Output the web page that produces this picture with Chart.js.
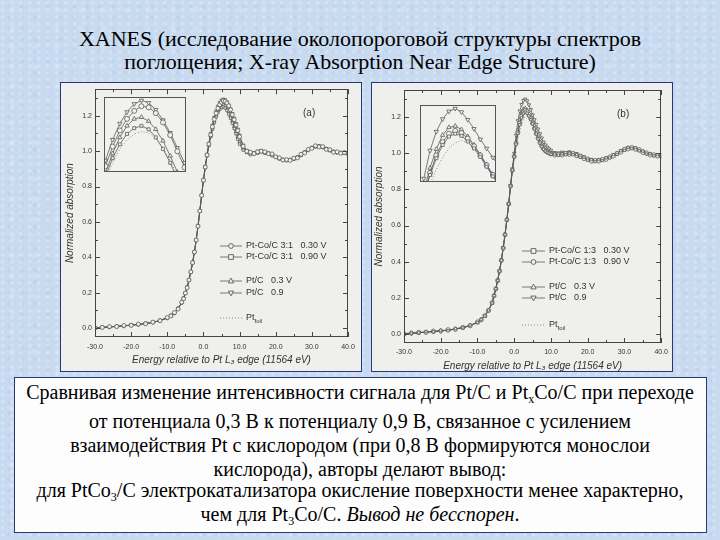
<!DOCTYPE html>
<html>
<head>
<meta charset="utf-8">
<script src="https://cdn.jsdelivr.net/npm/chart.js@4.4.1/dist/chart.umd.min.js"></script>
<style>
  body { margin: 0; width: 720px; height: 540px; overflow: hidden; position: relative;
         font-family: "Liberation Serif", serif;
         background-color: #c8daf0;
         background-image:
           radial-gradient(circle at 30% 40%, rgba(255,255,255,.35) 0, rgba(255,255,255,0) 2.5px),
           radial-gradient(circle at 70% 60%, rgba(150,175,215,.25) 0, rgba(150,175,215,0) 3px),
           radial-gradient(circle at 50% 50%, rgba(255,255,255,.2) 0, rgba(255,255,255,0) 5px);
         background-size: 9px 7px, 13px 11px, 23px 19px; }
  .ln { position: absolute; left: 360px; white-space: nowrap; color: #000;
        transform: translate(-50%, -50%); }
  .ttl { font-size: 22px; }
  .txt { font-size: 20px; }
  sub { font-size: 60%; vertical-align: -0.3em; }
  .panel { position: absolute; top: 82px; width: 302px; height: 290px; background: #eff0ed; }
  .panel canvas { position: absolute; left: 0; top: 0; }
  .panel .edge { position: absolute; left: 0; top: 0; width: 302px; height: 290px;
                 box-sizing: border-box; border: 1.5px solid #2b3775; pointer-events: none; }
  .inset { position: absolute; background: #f1f2ef; }
  .box { position: absolute; left: 14px; top: 377px; width: 693px; height: 156px;
         box-sizing: border-box; border: 1.5px solid #2b3775; background: #fdfdfd; }
</style>
</head>
<body>
<div class="ln ttl" style="top:39px">XANES (исследование околопороговой структуры спектров</div>
<div class="ln ttl" style="top:62px">поглощения; X-ray Absorption Near Edge Structure)</div>

<div class="panel" style="left:60px"><canvas id="chartA" width="302" height="290"></canvas><div class="edge"></div></div>
<div class="panel" style="left:371px"><canvas id="chartB" width="302" height="290"></canvas><div class="edge"></div></div>
<canvas class="inset" id="insetA" width="82" height="75" style="left:104px;top:97px"></canvas>
<canvas class="inset" id="insetB" width="76" height="77" style="left:420px;top:105px"></canvas>

<div class="box"></div>
<div class="ln txt" style="top:394px">Сравнивая изменение интенсивности сигнала для Pt/C и Pt<sub>x</sub>Co/C при переходе</div>
<div class="ln txt" style="top:421px">от потенциала 0,3 В к потенциалу 0,9 В, связанное с усилением</div>
<div class="ln txt" style="top:445px">взаимодействия Pt с кислородом (при 0,8 В формируются монослои</div>
<div class="ln txt" style="top:469px">кислорода), авторы делают вывод:</div>
<div class="ln txt" style="top:492px">для PtCo<sub>3</sub>/C электрокатализатора окисление поверхности менее характерно,</div>
<div class="ln txt" style="top:516px">чем для Pt<sub>3</sub>Co/C. <i>Вывод не бесспорен</i>.</div>

<script>
// energy relative to Pt L3 edge, eV
const energy = [-30, -28, -26, -24, -22, -20, -18, -16, -14, -12,
  -10, -9, -8, -7, -6,
  -5.5, -5, -4.5, -4, -3.5, -3, -2.5, -2, -1.5, -1, -0.5, 0, 0.5, 1, 1.5, 2, 2.5, 3, 3.5, 4, 4.5, 5, 5.5, 6, 6.5, 7, 7.5, 8, 8.5, 9, 9.5,
  10, 11, 12, 13, 14, 15, 16, 17, 18, 19, 20, 21, 22, 23, 24, 25, 26, 27, 28, 29, 30, 31, 32, 33, 34, 35, 36, 37, 38, 39, 40];

// (a) Pt-Co/C 3:1 and Pt/C
const aPtCo30 = [0.001, 0.004, 0.009, 0.009, 0.015, 0.016, 0.023, 0.025, 0.034, 0.042,
  0.060, 0.069, 0.088, 0.108, 0.147,
  0.166, 0.198, 0.228, 0.272, 0.318, 0.370, 0.430, 0.498, 0.576, 0.662, 0.750, 0.836, 0.910, 0.978, 1.040, 1.092, 1.138, 1.180, 1.214, 1.242, 1.262, 1.276, 1.284, 1.282, 1.272, 1.256, 1.234, 1.206, 1.178, 1.148, 1.116,
  1.082, 1.028, 1.000, 0.994, 0.986, 0.996, 1.000, 0.996, 0.986, 0.984, 0.968, 0.962, 0.950, 0.952, 0.948, 0.960, 0.962, 0.982, 0.990, 1.010, 1.016, 1.030, 1.024, 1.026, 1.010, 1.008, 0.994, 0.996, 0.988, 0.992, 0.984];
const aPtCo90 = [0.003, 0.003, 0.008, 0.008, 0.014, 0.015, 0.020, 0.027, 0.034, 0.041,
  0.059, 0.068, 0.087, 0.109, 0.146,
  0.167, 0.197, 0.229, 0.271, 0.317, 0.369, 0.429, 0.497, 0.575, 0.661, 0.749, 0.833, 0.907, 0.974, 1.032, 1.082, 1.124, 1.162, 1.194, 1.218, 1.236, 1.246, 1.250, 1.244, 1.230, 1.210, 1.186, 1.158, 1.128, 1.098, 1.068,
  1.040, 1.006, 0.992, 0.980, 0.986, 0.988, 0.998, 0.988, 0.986, 0.974, 0.968, 0.956, 0.952, 0.946, 0.952, 0.954, 0.966, 0.976, 0.994, 1.004, 1.020, 1.024, 1.028, 1.020, 1.014, 1.002, 0.998, 0.990, 0.992, 0.988, 0.986];
const aPtC03 = [0.000, 0.005, 0.006, 0.011, 0.012, 0.018, 0.022, 0.025, 0.032, 0.044,
  0.057, 0.071, 0.087, 0.111, 0.144,
  0.169, 0.197, 0.231, 0.271, 0.317, 0.369, 0.429, 0.497, 0.575, 0.661, 0.749, 0.834, 0.909, 0.976, 1.036, 1.086, 1.130, 1.168, 1.202, 1.230, 1.250, 1.262, 1.265, 1.258, 1.244, 1.224, 1.198, 1.170, 1.140, 1.110, 1.080,
  1.052, 1.014, 0.994, 0.984, 0.988, 0.992, 0.996, 0.992, 0.986, 0.978, 0.967, 0.958, 0.952, 0.949, 0.951, 0.956, 0.965, 0.978, 0.993, 1.007, 1.019, 1.026, 1.027, 1.022, 1.013, 1.004, 0.997, 0.993, 0.991, 0.990, 0.987];
const aPtC09 = [0.002, 0.006, 0.005, 0.012, 0.011, 0.019, 0.020, 0.028, 0.031, 0.045,
  0.056, 0.072, 0.084, 0.113, 0.142,
  0.170, 0.199, 0.233, 0.274, 0.320, 0.372, 0.432, 0.500, 0.578, 0.664, 0.752, 0.838, 0.914, 0.982, 1.044, 1.098, 1.146, 1.190, 1.226, 1.254, 1.274, 1.288, 1.294, 1.290, 1.278, 1.260, 1.238, 1.212, 1.186, 1.156, 1.124,
  1.090, 1.034, 1.004, 0.990, 0.992, 1.000, 1.004, 0.998, 0.990, 0.981, 0.970, 0.960, 0.953, 0.950, 0.952, 0.957, 0.966, 0.979, 0.994, 1.008, 1.020, 1.028, 1.030, 1.024, 1.015, 1.006, 0.998, 0.994, 0.991, 0.990, 0.988];
const aFoil = [0.000, 0.004, 0.007, 0.010, 0.013, 0.017, 0.021, 0.026, 0.033, 0.043,
  0.058, 0.070, 0.086, 0.110, 0.145,
  0.168, 0.196, 0.230, 0.270, 0.316, 0.368, 0.428, 0.496, 0.574, 0.660, 0.748, 0.832, 0.906, 0.972, 1.030, 1.078, 1.120, 1.156, 1.186, 1.210, 1.226, 1.236, 1.240, 1.238, 1.228, 1.212, 1.190, 1.164, 1.136, 1.106, 1.076,
  1.048, 1.010, 0.990, 0.982, 0.984, 0.990, 0.994, 0.990, 0.984, 0.976, 0.966, 0.957, 0.951, 0.948, 0.950, 0.955, 0.964, 0.977, 0.992, 1.006, 1.018, 1.025, 1.026, 1.021, 1.012, 1.003, 0.996, 0.992, 0.990, 0.989, 0.986];

// (b) Pt-Co/C 1:3 and Pt/C
const bPtCo30 = [0.002, 0.003, 0.006, 0.013, 0.012, 0.020, 0.018, 0.030, 0.034, 0.049,
  0.063, 0.080, 0.099, 0.133, 0.171,
  0.212, 0.250, 0.296, 0.348, 0.408, 0.476, 0.550, 0.632, 0.720, 0.819, 0.907, 0.980, 1.050, 1.110, 1.158, 1.196, 1.220, 1.228, 1.222, 1.206, 1.186, 1.162, 1.134, 1.106, 1.080, 1.056, 1.037, 1.022, 1.012, 1.005, 1.000,
  0.994, 0.996, 0.988, 0.996, 0.992, 1.000, 0.992, 0.992, 0.978, 0.978, 0.962, 0.964, 0.954, 0.964, 0.960, 0.974, 0.974, 0.992, 0.994, 1.014, 1.016, 1.032, 1.026, 1.030, 1.014, 1.012, 0.996, 0.998, 0.986, 0.992, 0.982];
const bPtCo90 = [-0.002, 0.005, 0.009, 0.009, 0.016, 0.016, 0.024, 0.026, 0.036, 0.045,
  0.067, 0.078, 0.101, 0.129, 0.173,
  0.211, 0.249, 0.295, 0.347, 0.407, 0.475, 0.549, 0.631, 0.719, 0.818, 0.906, 0.982, 1.054, 1.116, 1.166, 1.204, 1.228, 1.236, 1.230, 1.214, 1.192, 1.166, 1.138, 1.110, 1.084, 1.060, 1.040, 1.024, 1.013, 1.006, 1.001,
  0.996, 0.990, 0.994, 0.990, 0.998, 0.994, 0.998, 0.986, 0.984, 0.970, 0.968, 0.956, 0.960, 0.956, 0.966, 0.966, 0.980, 0.984, 1.000, 1.006, 1.022, 1.024, 1.032, 1.022, 1.020, 1.004, 1.002, 0.990, 0.992, 0.984, 0.988];
const bPtC03 = [0.001, 0.006, 0.005, 0.012, 0.011, 0.019, 0.019, 0.029, 0.033, 0.048,
  0.062, 0.081, 0.098, 0.132, 0.170,
  0.213, 0.251, 0.297, 0.349, 0.409, 0.477, 0.551, 0.633, 0.721, 0.820, 0.910, 0.988, 1.064, 1.130, 1.184, 1.224, 1.246, 1.250, 1.240, 1.220, 1.196, 1.168, 1.140, 1.112, 1.086, 1.062, 1.042, 1.026, 1.016, 1.008, 1.003,
  1.000, 0.998, 0.990, 0.998, 0.994, 1.002, 0.994, 0.994, 0.980, 0.976, 0.964, 0.962, 0.956, 0.962, 0.962, 0.972, 0.976, 0.990, 0.996, 1.012, 1.018, 1.030, 1.028, 1.028, 1.016, 1.010, 0.998, 0.996, 0.988, 0.990, 0.984];
const bPtC09 = [0.003, 0.002, 0.008, 0.008, 0.015, 0.014, 0.023, 0.025, 0.037, 0.044,
  0.066, 0.077, 0.102, 0.128, 0.174,
  0.214, 0.252, 0.298, 0.350, 0.410, 0.478, 0.552, 0.634, 0.722, 0.822, 0.914, 1.000, 1.100, 1.180, 1.234, 1.270, 1.292, 1.300, 1.290, 1.268, 1.242, 1.212, 1.186, 1.160, 1.134, 1.108, 1.084, 1.062, 1.046, 1.034, 1.024,
  1.016, 1.004, 1.002, 1.006, 1.004, 1.008, 1.002, 0.998, 0.988, 0.980, 0.970, 0.966, 0.960, 0.964, 0.966, 0.974, 0.980, 0.992, 1.000, 1.014, 1.022, 1.032, 1.030, 1.028, 1.016, 1.010, 0.998, 0.996, 0.988, 0.990, 0.984];
const bFoil = [0.000, 0.004, 0.007, 0.010, 0.013, 0.017, 0.021, 0.027, 0.035, 0.046,
  0.064, 0.079, 0.100, 0.130, 0.172,
  0.212, 0.250, 0.296, 0.348, 0.408, 0.476, 0.550, 0.632, 0.720, 0.818, 0.904, 0.974, 1.034, 1.084, 1.126, 1.160, 1.186, 1.202, 1.208, 1.202, 1.186, 1.162, 1.134, 1.104, 1.076, 1.052, 1.034, 1.020, 1.010, 1.004, 1.000,
  0.998, 0.994, 0.992, 0.994, 0.996, 0.998, 0.996, 0.990, 0.982, 0.974, 0.966, 0.960, 0.958, 0.960, 0.964, 0.970, 0.978, 0.988, 0.998, 1.010, 1.020, 1.028, 1.030, 1.026, 1.018, 1.008, 1.000, 0.994, 0.990, 0.988, 0.986];

const xTicks = [-30, -20, -10, 0, 10, 20, 30, 40];
const yTicks = [0.0, 0.2, 0.4, 0.6, 0.8, 1.0, 1.2];

const labelsA = ['Pt-Co/C 3:1   0.30 V', 'Pt-Co/C 3:1   0.90 V', 'Pt/C   0.3 V', 'Pt/C   0.9', 'Pt'];
const labelsB = ['Pt-Co/C 1:3   0.30 V', 'Pt-Co/C 1:3   0.90 V', 'Pt/C   0.3 V', 'Pt/C   0.9', 'Pt'];

const ink = '#5a5a5a';
const paper = '#f1f2ef';

function pts(ys) { return energy.map((x, i) => ({ x: x, y: ys[i] })); }

function series(label, ys, style, rot, r) {
  return {
    label: label, data: pts(ys), showLine: true,
    borderColor: ink, borderWidth: 0.8,
    pointStyle: style, pointRotation: rot, pointRadius: r,
    pointBorderColor: ink, pointBackgroundColor: paper, pointBorderWidth: 0.8
  };
}
function foil(label, ys) {
  return {
    label: label, data: pts(ys), showLine: true,
    borderColor: '#888', borderWidth: 1, borderDash: [1, 2], pointRadius: 0
  };
}

// marker drawn in the in-plot legend
function marker(ctx, style, rot, x, y, r) {
  ctx.beginPath();
  if (style === 'circle') ctx.arc(x, y, r, 0, Math.PI * 2);
  else if (style === 'rect') ctx.rect(x - r, y - r, 2 * r, 2 * r);
  else if (style === 'triangle') {
    const s = rot ? -1 : 1;
    ctx.moveTo(x, y - s * r * 1.2); ctx.lineTo(x - r * 1.1, y + s * r * 0.8); ctx.lineTo(x + r * 1.1, y + s * r * 0.8);
    ctx.closePath();
  }
  ctx.fill(); ctx.stroke();
}

const frameTicks = {
  id: 'frameTicks',
  afterDatasetsDraw(chart, args, o) {
    const ctx = chart.ctx, a = chart.chartArea;
    ctx.save();
    ctx.strokeStyle = o.color || '#444';
    ctx.lineWidth = 1;
    ctx.strokeRect(Math.round(a.left) + 0.5, Math.round(a.top) + 0.5, Math.round(a.width) - 1, Math.round(a.height) - 1);
    if (o.ticks) {
      const sx = chart.scales.x, sy = chart.scales.y;
      ctx.beginPath();
      xTicks.forEach((v, i) => {
        const p = Math.round(sx.getPixelForValue(v)) + 0.5;
        ctx.moveTo(p, a.bottom); ctx.lineTo(p, a.bottom - 5);
        ctx.moveTo(p, a.top); ctx.lineTo(p, a.top + 5);
        if (i < xTicks.length - 1) {
          const q = Math.round(sx.getPixelForValue(v + 5)) + 0.5;
          ctx.moveTo(q, a.bottom); ctx.lineTo(q, a.bottom - 3);
          ctx.moveTo(q, a.top); ctx.lineTo(q, a.top + 3);
        }
      });
      yTicks.forEach(v => {
        const p = Math.round(sy.getPixelForValue(v)) + 0.5;
        ctx.moveTo(a.left, p); ctx.lineTo(a.left + 5, p);
        ctx.moveTo(a.right, p); ctx.lineTo(a.right - 5, p);
        const q = Math.round(sy.getPixelForValue(v + 0.1)) + 0.5;
        if (q > a.top) {
          ctx.moveTo(a.left, q); ctx.lineTo(a.left + 3, q);
          ctx.moveTo(a.right, q); ctx.lineTo(a.right - 3, q);
        }
      });
      ctx.stroke();
    }
    ctx.restore();
  }
};

const plotLegend = {
  id: 'plotLegend',
  afterDraw(chart, args, o) {
    if (!o.rows) return;
    const ctx = chart.ctx;
    ctx.save();
    ctx.textBaseline = 'middle';
    o.rows.forEach(row => {
      const ds = chart.data.datasets[row.ds];
      ctx.strokeStyle = ds.borderColor;
      ctx.lineWidth = ds.borderWidth;
      ctx.setLineDash(ds.borderDash || []);
      ctx.beginPath(); ctx.moveTo(o.x, row.y); ctx.lineTo(o.x + o.len, row.y); ctx.stroke();
      ctx.setLineDash([]);
      if (ds.pointRadius > 0) {
        ctx.fillStyle = paper; ctx.lineWidth = 0.9;
        marker(ctx, ds.pointStyle, ds.pointRotation, o.x + o.len / 2, row.y, 2.4);
      }
      ctx.fillStyle = '#333';
      ctx.font = '9px "Liberation Sans", Arial, sans-serif';
      ctx.fillText(ds.label, o.x + o.len + 4, row.y);
      if (row.sub) {
        const w = ctx.measureText(ds.label).width;
        ctx.font = '6px "Liberation Sans", Arial, sans-serif';
        ctx.fillText(row.sub, o.x + o.len + 4 + w, row.y + 3);
      }
    });
    ctx.font = '10px "Liberation Sans", Arial, sans-serif';
    ctx.fillText(o.tag, o.tagX, o.tagY);
    ctx.restore();
  }
};

const tickFont = { family: '"Liberation Sans", Arial, sans-serif', size: 7 };
const titleFont = { family: '"Liberation Sans", Arial, sans-serif', size: 10, style: 'italic' };

function mainChart(id, sets, box, legend) {
  return new Chart(document.getElementById(id), {
    type: 'scatter',
    data: { datasets: sets },
    plugins: [frameTicks, plotLegend],
    options: {
      responsive: false, animation: false,
      layout: { autoPadding: false, padding: { left: 0, top: box.top, right: box.right, bottom: 0 } },
      scales: {
        x: {
          type: 'linear', min: -30, max: 40,
          afterBuildTicks: s => { s.ticks = xTicks.map(v => ({ value: v })); },
          afterFit: s => { s.height = box.xh; },
          grid: { display: false, drawTicks: false }, border: { display: false },
          ticks: { font: tickFont, color: '#333', padding: box.xp, maxRotation: 0, callback: v => v.toFixed(1) },
          title: { display: true, text: 'Energy relative to Pt L\u2083 edge (11564 eV)', font: titleFont, color: '#333',
                   padding: { top: 0, bottom: box.tb } }
        },
        y: {
          type: 'linear', min: -0.05, max: 1.35,
          afterBuildTicks: s => { s.ticks = yTicks.map(v => ({ value: v })); },
          afterFit: s => { s.width = box.yw; },
          grid: { display: false, drawTicks: false }, border: { display: false },
          ticks: { font: tickFont, color: '#333', padding: 3, callback: v => v.toFixed(1) },
          title: { display: true, text: 'Normalized absorption', font: titleFont, color: '#333',
                   padding: { top: box.tp, bottom: 0 } }
        }
      },
      plugins: {
        legend: { display: false }, tooltip: { enabled: false },
        frameTicks: { ticks: true, color: '#444' },
        plotLegend: legend
      }
    }
  });
}

function insetChart(id, sets, xr, yr) {
  return new Chart(document.getElementById(id), {
    type: 'scatter',
    data: { datasets: sets },
    plugins: [frameTicks],
    options: {
      responsive: false, animation: false,
      layout: { autoPadding: false, padding: 0 },
      scales: {
        x: { type: 'linear', display: false, min: xr[0], max: xr[1] },
        y: { type: 'linear', display: false, min: yr[0], max: yr[1] }
      },
      plugins: { legend: { display: false }, tooltip: { enabled: false }, frameTicks: { ticks: false, color: '#555' } }
    }
  });
}

function setsA(r) {
  return [
    series(labelsA[0], aPtCo30, 'circle', 0, r),
    series(labelsA[1], aPtCo90, 'rect', 0, r * 0.85),
    series(labelsA[2], aPtC03, 'triangle', 0, r),
    series(labelsA[3], aPtC09, 'triangle', 180, r),
    foil(labelsA[4], aFoil)
  ];
}
function setsB(r) {
  return [
    series(labelsB[0], bPtCo30, 'rect', 0, r * 0.85),
    series(labelsB[1], bPtCo90, 'circle', 0, r),
    series(labelsB[2], bPtC03, 'triangle', 0, r),
    series(labelsB[3], bPtC09, 'triangle', 180, r),
    foil(labelsB[4], bFoil)
  ];
}

mainChart('chartA', setsA(2), { top: 5, right: 14, xh: 35, yw: 35, tb: 6, tp: 4, xp: 6 }, {
  x: 160, len: 22, tag: '(a)', tagX: 243, tagY: 31,
  rows: [{ ds: 0, y: 164 }, { ds: 1, y: 175 }, { ds: 2, y: 199 }, { ds: 3, y: 211 }, { ds: 4, y: 236, sub: 'foil' }]
});
mainChart('chartB', setsB(2), { top: 8, right: 5, xh: 29, yw: 33, tb: 0, tp: 2, xp: 5 }, {
  x: 151, len: 23, tag: '(b)', tagX: 246, tagY: 32,
  rows: [{ ds: 0, y: 169 }, { ds: 1, y: 180 }, { ds: 2, y: 205 }, { ds: 3, y: 216 }, { ds: 4, y: 243, sub: 'foil' }]
});
insetChart('insetA', setsA(2.5), [2.9, 8.6], [1.17, 1.30]);
insetChart('insetB', setsB(2.5), [0.2, 6.25], [1.09, 1.31]);
</script>
</body>
</html>
